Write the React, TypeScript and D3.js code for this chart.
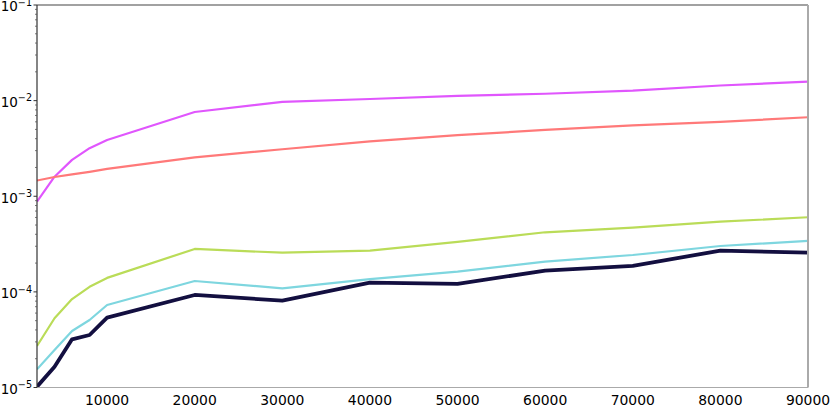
import React from "react";
import * as d3 from "d3";

const xValues = [2000, 4000, 6000, 8000, 10000, 20000, 30000, 40000, 50000, 60000, 70000, 80000, 90000];
const magenta = [8.8e-4, 1.6e-3, 2.4e-3, 3.18e-3, 3.88e-3, 7.6e-3, 9.7e-3, 1.04e-2, 1.12e-2, 1.18e-2, 1.27e-2, 1.44e-2, 1.58e-2];
const salmon = [1.46e-3, 1.59e-3, 1.69e-3, 1.8e-3, 1.93e-3, 2.55e-3, 3.1e-3, 3.75e-3, 4.35e-3, 4.94e-3, 5.5e-3, 6.0e-3, 6.7e-3];
const green = [2.72e-5, 5.3e-5, 8.4e-5, 1.13e-4, 1.4e-4, 2.81e-4, 2.57e-4, 2.7e-4, 3.33e-4, 4.2e-4, 4.7e-4, 5.42e-4, 6.03e-4];
const cyan = [1.55e-5, 2.47e-5, 3.9e-5, 5.08e-5, 7.29e-5, 1.3e-4, 1.09e-4, 1.36e-4, 1.63e-4, 2.07e-4, 2.43e-4, 3.02e-4, 3.41e-4];
const navy = [1.02e-5, 1.65e-5, 3.19e-5, 3.54e-5, 5.37e-5, 9.28e-5, 8.09e-5, 1.25e-4, 1.21e-4, 1.67e-4, 1.87e-4, 2.7e-4, 2.57e-4];
const xTicks = [10000, 20000, 30000, 40000, 50000, 60000, 70000, 80000, 90000];
const yExponents = [-5, -4, -3, -2, -1];

const series = [
  { name: "magenta", values: magenta, color: "#e056fd", width: 2.2 },
  { name: "salmon", values: salmon, color: "#ff7979", width: 2.2 },
  { name: "green", values: green, color: "#badc58", width: 2.2 },
  { name: "cyan", values: cyan, color: "#7ed6df", width: 2.2 },
  { name: "navy", values: navy, color: "#130f40", width: 3.8 },
];

const W = 830, H = 407;
const L = 37, R = 808, T = 5, B = 387.5;

export default function App() {
  const x = d3.scaleLinear().domain([2000, 90000]).range([L, R]);
  const y = d3.scaleLog().domain([1e-5, 1e-1]).range([B, T]);
  const line = d3.line<[number, number]>().x(d => x(d[0])).y(d => y(d[1]));
  const minor: number[] = [];
  for (let e = -5; e < -1; e++) for (let m = 2; m <= 9; m++) minor.push(m * Math.pow(10, e));
  const font = "'DejaVu Sans', sans-serif";
  return (
    <svg width={W} height={H} style={{ position: "absolute", left: 0, top: 0 }} fontFamily={font}>
      <defs>
        <clipPath id="plot">
          <rect x={L} y={T} width={R - L} height={B - T} />
        </clipPath>
      </defs>
      <rect x={0} y={0} width={W} height={H} fill="#fff" />
      <g clipPath="url(#plot)">
        {series.map(s => (
          <path key={s.name} d={line(xValues.map((v, i) => [v, s.values[i]] as [number, number])) || ""}
            fill="none" stroke={s.color} strokeWidth={s.width} strokeLinejoin="round" />
        ))}
      </g>
      {/* spines */}
      <line x1={L} x2={R} y1={T} y2={T} stroke="#444" strokeWidth={1.2} />
      <line x1={R} x2={R} y1={T} y2={B} stroke="#aaa" strokeWidth={2} />
      <line x1={L} x2={R} y1={B} y2={B} stroke="#aaa" strokeWidth={1.2} />
      <line x1={L} x2={L} y1={T} y2={B} stroke="#333" strokeWidth={1.2} />
      {/* y ticks */}
      {minor.map((v, i) => (
        <line key={"m" + i} x1={L - 2} x2={L} y1={y(v)} y2={y(v)} stroke="#555" strokeWidth={0.8} />
      ))}
      {yExponents.map(e => (
        <g key={e}>
          <line x1={L - 3.5} x2={L} y1={y(Math.pow(10, e))} y2={y(Math.pow(10, e))} stroke="#333" strokeWidth={1} />
          <text x={L - 5} y={y(Math.pow(10, e)) + 6.3} textAnchor="end" fontSize={13.5} fill="#000">
            <tspan>10</tspan>
            <tspan fontSize={9.6} dy={-5.5}>{"\u2212" + Math.abs(e)}</tspan>
          </text>
        </g>
      ))}
      {xTicks.map(t => (
        <text key={t} x={x(t)} y={405} textAnchor="middle" fontSize={13.9} fill="#000">{t}</text>
      ))}
    </svg>
  );
}
